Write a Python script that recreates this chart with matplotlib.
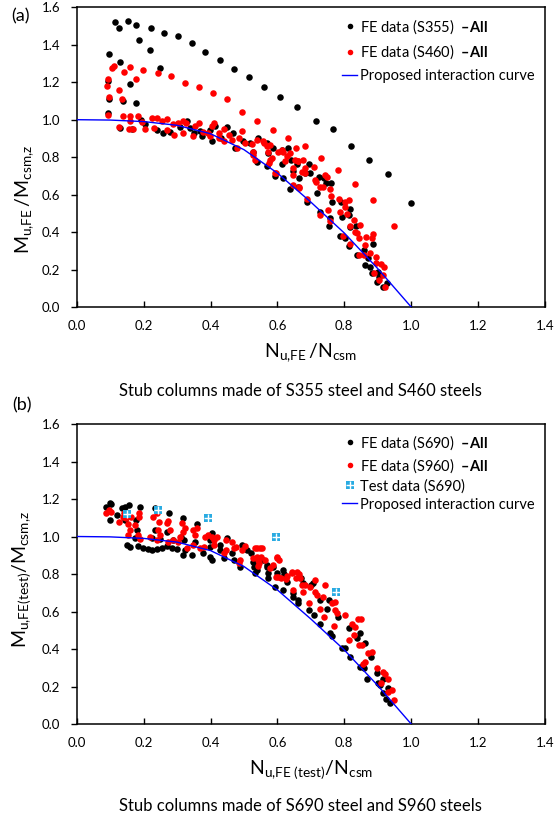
import numpy as np
import matplotlib
matplotlib.use("Agg")
import matplotlib.pyplot as plt
from matplotlib.lines import Line2D

plt.rcParams['font.family'] = ['Lato', 'DejaVu Sans']
plt.rcParams['mathtext.fontset'] = 'custom'
plt.rcParams['mathtext.rm'] = 'Lato'
plt.rcParams['mathtext.it'] = 'Lato:italic'
plt.rcParams['mathtext.bf'] = 'Lato:bold'

# ---- data (N/Ncsm, M/Mcsm) ----
curve_n = [0.0, 0.1, 0.2, 0.3, 0.4, 0.5, 0.6, 0.7, 0.8, 0.9, 1.0]
curve_m = [1.0, 0.998, 0.99, 0.97, 0.925, 0.84, 0.715, 0.56, 0.395, 0.205, 0.0]

s355 = [(0.115,1.522),(0.127,1.492),(0.154,1.526),(0.177,1.506),(0.221,1.492),(0.262,1.462),
        (0.302,1.446),(0.344,1.410),(0.384,1.362),(0.427,1.321),(0.470,1.271),(0.514,1.230),
        (0.560,1.175),(0.608,1.121),(0.660,1.070),(0.714,0.995),(0.765,0.952),(0.820,0.862),
        (0.875,0.786),(0.932,0.710),(1.000,0.555),
        (0.098,1.353),(0.130,1.308),(0.187,1.424),(0.219,1.371),(0.249,1.278),(0.095,1.208),
        (0.159,1.191),(0.098,1.112),(0.139,1.098),(0.178,1.087),(0.095,1.036),
        (0.128,0.955),(0.165,0.948),(0.205,0.975),(0.280,0.935),(0.350,0.930),(0.430,0.900),
        (0.192,0.996),(0.239,0.943),(0.259,0.929),(0.309,0.959),(0.329,0.991),(0.339,0.955),
        (0.369,0.938),(0.374,0.911),(0.399,0.947),(0.414,0.964),(0.404,0.884),(0.450,0.961),
        (0.468,0.929),(0.497,0.884),(0.474,0.849),(0.518,0.875),(0.528,0.830),(0.539,0.772),
        (0.543,0.902),(0.573,0.821),(0.588,0.848),(0.568,0.754),(0.593,0.701),(0.633,0.849),
        (0.613,0.765),(0.640,0.786),(0.659,0.765),(0.638,0.631),(0.666,0.688),(0.688,0.563),
        (0.683,0.715),(0.568,0.875),(0.613,0.840),(0.648,0.727),(0.618,0.688),(0.693,0.765),
        (0.698,0.714),(0.663,0.643),(0.718,0.608),(0.723,0.696),(0.740,0.688),(0.746,0.661),
        (0.760,0.661),(0.763,0.563),(0.726,0.509),(0.756,0.474),(0.753,0.433),(0.790,0.560),
        (0.793,0.480),(0.818,0.525),(0.813,0.489),(0.818,0.425),(0.836,0.433),(0.788,0.377),
        (0.803,0.368),(0.813,0.323),(0.887,0.337),(0.858,0.304),(0.837,0.275),(0.872,0.260),
        (0.862,0.225),(0.877,0.216),(0.882,0.184),(0.902,0.189),(0.897,0.136),(0.915,0.109),
        (0.927,0.130),(0.905,0.160)]

s460 = [(0.105,1.276),(0.112,1.289),(0.093,1.219),(0.091,1.178),(0.142,1.253),(0.158,1.280),
        (0.199,1.267),(0.242,1.250),(0.177,1.218),(0.127,1.159),(0.097,1.121),(0.136,1.111),
        (0.283,1.234),(0.324,1.196),(0.365,1.176),(0.408,1.144),(0.450,1.109),(0.494,1.043),
        (0.538,0.993),(0.586,0.946),(0.633,0.902),(0.683,0.862),(0.731,0.795),(0.782,0.733),
        (0.833,0.656),(0.885,0.572),(0.949,0.431),(0.095,1.027),
        (0.139,1.020),(0.159,1.020),(0.182,1.020),(0.126,0.959),(0.159,0.991),(0.157,0.952),
        (0.167,0.952),(0.204,0.950),(0.194,0.985),(0.224,1.009),(0.241,1.009),(0.231,0.955),
        (0.254,0.991),(0.269,1.005),(0.271,0.947),(0.289,0.977),(0.291,0.920),(0.303,0.983),
        (0.319,0.991),(0.327,0.982),(0.317,0.929),(0.347,0.911),(0.354,0.964),(0.367,0.982),
        (0.379,0.932),(0.394,0.929),(0.404,0.968),(0.411,0.982),(0.399,0.911),(0.424,0.929),
        (0.439,0.950),(0.426,0.903),(0.441,0.884),(0.456,0.920),(0.464,0.893),(0.484,0.902),
        (0.494,0.938),(0.479,0.849),(0.504,0.875),(0.527,0.813),(0.534,0.786),(0.539,0.893),
        (0.560,0.875),(0.568,0.857),(0.585,0.795),(0.578,0.866),(0.575,0.768),(0.593,0.715),
        (0.613,0.840),(0.638,0.821),(0.628,0.804),(0.653,0.786),(0.648,0.741),(0.648,0.706),
        (0.662,0.777),(0.648,0.650),(0.666,0.640),(0.656,0.848),(0.688,0.575),
        (0.524,0.870),(0.558,0.884),(0.528,0.830),(0.573,0.830),(0.578,0.786),(0.603,0.830),
        (0.618,0.830),(0.623,0.777),(0.596,0.718),(0.663,0.777),(0.678,0.786),(0.683,0.741),
        (0.683,0.714),(0.673,0.723),(0.708,0.745),(0.666,0.634),(0.713,0.679),(0.716,0.670),
        (0.728,0.643),(0.743,0.705),(0.736,0.643),(0.748,0.693),(0.758,0.629),(0.761,0.590),
        (0.751,0.518),(0.728,0.491),(0.758,0.457),(0.783,0.578),(0.801,0.560),(0.813,0.570),
        (0.786,0.507),(0.803,0.534),(0.808,0.498),(0.818,0.430),(0.830,0.462),(0.848,0.438),
        (0.833,0.403),(0.796,0.381),(0.818,0.337),(0.838,0.393),(0.843,0.368),(0.865,0.376),
        (0.887,0.391),(0.882,0.368),(0.863,0.332),(0.859,0.278),(0.845,0.278),(0.877,0.286),
        (0.895,0.268),(0.895,0.233),(0.910,0.230),(0.920,0.216),(0.889,0.184),(0.915,0.171),
        (0.905,0.144),(0.922,0.109)]

s690 = [(0.088,1.159),(0.100,1.177),(0.104,1.175),(0.100,1.088),(0.120,1.115),(0.135,1.150),
        (0.145,1.159),(0.155,1.168),(0.145,1.088),(0.150,0.955),(0.159,0.946),(0.189,1.157),
        (0.177,1.088),(0.181,1.035),(0.174,0.990),(0.184,0.950),(0.199,0.941),(0.214,0.932),
        (0.224,0.927),(0.234,1.150),(0.234,1.035),(0.224,0.990),(0.249,0.985),(0.239,0.932),
        (0.254,0.937),(0.277,1.128),(0.269,1.026),(0.269,0.950),(0.289,0.981),(0.284,0.937),
        (0.299,0.932),(0.312,0.999),(0.319,1.097),(0.320,0.981),(0.317,0.901),(0.324,0.928),
        (0.344,0.901),(0.354,0.972),(0.359,1.067),(0.377,0.910),(0.399,0.981),(0.404,1.017),
        (0.399,0.945),(0.404,0.875),(0.399,0.890),(0.427,0.954),(0.429,0.928),(0.441,0.884),
        (0.449,0.990),(0.464,0.910),(0.469,0.875),(0.489,0.840),(0.493,0.954),(0.508,0.930),
        (0.520,0.910),(0.526,0.866),(0.530,0.839),(0.538,0.821),(0.558,0.875),(0.568,0.839),
        (0.573,0.777),(0.593,0.733),(0.598,0.804),(0.616,0.821),(0.620,0.800),(0.628,0.759),
        (0.648,0.697),(0.663,0.661),(0.670,0.780),(0.700,0.740),
        (0.543,0.857),(0.533,0.803),(0.568,0.848),(0.573,0.803),(0.588,0.839),(0.616,0.714),
        (0.646,0.679),(0.663,0.643),(0.676,0.750),(0.693,0.607),(0.708,0.580),(0.728,0.535),
        (0.706,0.750),(0.726,0.661),(0.748,0.616),(0.753,0.661),(0.758,0.485),(0.763,0.471),
        (0.780,0.572),(0.793,0.403),(0.803,0.403),(0.813,0.510),(0.848,0.483),(0.838,0.457),
        (0.862,0.430),(0.818,0.359),(0.848,0.306),(0.879,0.359),(0.858,0.297),(0.897,0.270),
        (0.868,0.238),(0.915,0.238),(0.907,0.208),(0.900,0.220),(0.915,0.163),(0.925,0.136),
        (0.937,0.110),(0.930,0.190)]

s960 = [(0.088,1.124),(0.098,1.141),(0.102,1.132),(0.125,1.079),(0.138,1.106),(0.146,1.097),
        (0.140,1.124),(0.162,1.102),(0.154,1.067),(0.154,1.008),(0.159,1.035),(0.187,1.124),
        (0.187,1.102),(0.174,1.062),(0.184,1.008),(0.189,0.986),(0.229,1.102),(0.239,1.124),
        (0.247,1.079),(0.244,1.035),(0.219,0.999),(0.239,0.981),(0.249,1.008),(0.274,1.084),
        (0.271,1.070),(0.279,1.035),(0.274,0.972),(0.289,0.981),(0.304,0.972),(0.309,0.999),
        (0.314,1.070),(0.317,1.026),(0.324,1.044),(0.329,0.937),(0.347,0.955),(0.354,1.008),
        (0.349,1.035),(0.361,1.044),(0.369,0.937),(0.381,0.945),(0.384,0.999),(0.394,1.008),
        (0.404,0.999),(0.409,0.980),(0.411,0.954),(0.419,0.999),(0.441,0.914),(0.446,0.981),
        (0.447,0.930),(0.464,0.972),(0.469,0.940),(0.476,0.945),(0.489,0.875),(0.484,0.857),
        (0.495,0.930),(0.503,0.950),(0.528,0.884),(0.538,0.937),(0.548,0.937),(0.543,0.875),
        (0.545,0.860),(0.550,0.890),(0.588,0.848),(0.598,0.893),(0.606,0.875),(0.603,0.786),
        (0.610,0.780),(0.630,0.790),(0.643,0.813),(0.660,0.813),(0.656,0.777),(0.665,0.800),
        (0.683,0.741),
        (0.533,0.939),(0.553,0.939),(0.538,0.893),(0.541,0.841),(0.563,0.875),(0.578,0.830),
        (0.598,0.883),(0.596,0.782),(0.626,0.775),(0.643,0.803),(0.648,0.714),(0.668,0.777),
        (0.673,0.741),(0.678,0.705),(0.693,0.643),(0.698,0.732),(0.713,0.768),(0.713,0.705),
        (0.718,0.687),(0.728,0.616),(0.738,0.572),(0.743,0.741),(0.736,0.679),(0.763,0.643),
        (0.773,0.652),(0.768,0.521),(0.773,0.608),(0.778,0.590),(0.803,0.581),(0.813,0.448),
        (0.823,0.536),(0.833,0.519),(0.840,0.558),(0.850,0.558),(0.828,0.475),(0.843,0.421),
        (0.853,0.421),(0.872,0.380),(0.862,0.333),(0.882,0.386),(0.855,0.320),(0.897,0.297),
        (0.915,0.279),(0.922,0.267),(0.930,0.240),(0.910,0.220),(0.930,0.172),(0.942,0.181),
        (0.948,0.128)]

test690 = [(0.150,1.120),(0.242,1.141),(0.392,1.100),(0.595,1.000),(0.776,0.702)]

xticks = [0.0, 0.2, 0.4, 0.6, 0.8, 1.0, 1.2, 1.4]
yticks = [0.0, 0.2, 0.4, 0.6, 0.8, 1.0, 1.2, 1.4, 1.6]

W, H = 555, 822
fig = plt.figure(figsize=(W/100, H/100), dpi=100)
ax1 = fig.add_axes([76.7/W, 1-307/H, 468.3/W, 299.7/H])
ax2 = fig.add_axes([76.7/W, 1-724/H, 468.3/W, 300/H])

TEST_C = '#29abe2'
MS = 4.7

def style(ax):
    ax.set_xlim(0, 1.4)
    ax.set_ylim(0, 1.6)
    ax.set_xticks(xticks)
    ax.set_yticks(yticks)
    ax.set_xticklabels([f"{t:.1f}" for t in xticks])
    ax.set_yticklabels([f"{t:.1f}" for t in yticks])
    ax.tick_params(axis='x', direction='in', length=4, width=1, labelsize=9.5, pad=9)
    ax.tick_params(axis='y', direction='out', length=4, width=1, labelsize=9.5, pad=8)
    for sp in ax.spines.values():
        sp.set_linewidth(1.1)
        sp.set_color('black')

def scatter(ax, pts, color):
    p = np.array(pts)
    ax.plot(p[:, 0], p[:, 1], 'o', ms=MS, color=color, mec=color, mew=0, zorder=3)

DASH = ' $\\mathbf{\u2013All}$'

# ---- (a) ----
scatter(ax1, s355, 'black')
scatter(ax1, s460, 'red')
ax1.plot(curve_n, curve_m, color='#0000ff', lw=1.0, zorder=4)
style(ax1)
ax1.text(-0.11, 0.36, r'$\mathregular{M_{u{,}FE}\,/M_{csm{,}z}}$', transform=ax1.transAxes,
         rotation=90, ha='center', va='center', fontsize=14)
ax1.text(0.5, -0.153, r'$\mathregular{N_{u{,}FE}\,/N_{csm}}$', transform=ax1.transAxes,
         ha='center', va='center', fontsize=14)

h_blk = Line2D([], [], ls='none', marker='o', ms=4, color='black', mew=0)
h_red = Line2D([], [], ls='none', marker='o', ms=4, color='red', mew=0)
h_crv = Line2D([], [], color='#0000ff', lw=1.0)
ax1.legend([h_blk, h_red, h_crv],
           ['FE data (S355) ' + DASH, 'FE data (S460) ' + DASH, 'Proposed interaction curve'],
           loc='upper left', bbox_to_anchor=((342-76.7)/468.3, 1-(17-7.3)/299.7),
           frameon=False, fontsize=10.5, handlelength=1.05, handletextpad=0.2,
           borderpad=0, borderaxespad=0, labelspacing=0.5)

# ---- (b) ----
scatter(ax2, s690, 'black')
scatter(ax2, s960, 'red')
t = np.array(test690)
ax2.plot(t[:, 0], t[:, 1], 's', ms=5.8, color=TEST_C, mew=0, zorder=5)
ax2.plot(t[:, 0], t[:, 1], '+', ms=5.8, color='white', mew=1.0, zorder=6)
ax2.plot(curve_n, curve_m, color='#0000ff', lw=1.0, zorder=4)
style(ax2)
ax2.text(-0.117, 0.48, r'$\mathregular{M_{u{,}FE(test)}/M_{csm{,}z}}$', transform=ax2.transAxes,
         rotation=90, ha='center', va='center', fontsize=14)
ax2.text(0.5, -0.153, r'$\mathregular{N_{u{,}FE\ (test)}/N_{csm}}$', transform=ax2.transAxes,
         ha='center', va='center', fontsize=14)

h_tst = (Line2D([], [], ls='none', marker='s', ms=5.3, color=TEST_C, mew=0),
         Line2D([], [], ls='none', marker='+', ms=5.3, color='white', mew=1.0))
ax2.legend([h_blk, h_red, h_tst, h_crv],
           ['FE data (S690) ' + DASH, 'FE data (S960) ' + DASH, 'Test data (S690)',
            'Proposed interaction curve'],
           loc='upper left', bbox_to_anchor=((342-76.7)/468.3, 1-(433-424)/300),
           frameon=False, fontsize=10.5, handlelength=1.05, handletextpad=0.2,
           borderpad=0, borderaxespad=0, labelspacing=0.3)

# ---- captions ----
fig.text(21/W, 1-16/H, '(a)', fontsize=13, ha='center', va='center')
fig.text(22/W, 1-405/H, '(b)', fontsize=13, ha='center', va='center')
fig.text(300/W, 1-391/H, 'Stub columns made of S355 steel and S460 steels',
         fontsize=12, ha='center', va='center')
fig.text(300/W, 1-806/H, 'Stub columns made of S690 steel and S960 steels',
         fontsize=12, ha='center', va='center')

fig.savefig('out.png', dpi=100)
